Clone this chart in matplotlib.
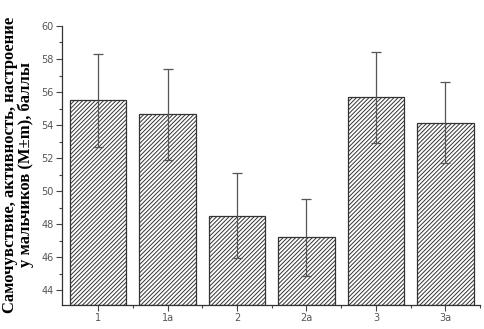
import matplotlib
matplotlib.use("Agg")
import matplotlib.pyplot as plt
from matplotlib.ticker import MultipleLocator

grupos = ["1", "1a", "2", "2a", "3", "3a"]
medias = [55.5, 54.65, 48.5, 47.2, 55.68, 54.15]
erros = [2.8, 2.75, 2.58, 2.35, 2.75, 2.45]

plt.rcParams["hatch.color"] = "#555555"
plt.rcParams["hatch.linewidth"] = 0.7

fig = plt.figure(figsize=(4.84, 3.29), dpi=100)
ax = fig.add_axes([0.128, 0.073, 0.864, 0.848])

pos = list(range(1, len(grupos) + 1))
ax.bar(pos, [m - 43.1 for m in medias], bottom=43.1, width=0.81,
       color="white", edgecolor="#333333", linewidth=0.9, hatch="////////",
       zorder=2)
ax.errorbar(pos, medias, yerr=erros, fmt="none", ecolor="#555555",
            elinewidth=0.9, capsize=3.8, capthick=0.9, zorder=3)

ax.set_ylim(43.1, 60)
ax.set_xlim(0.48, 6.5)
ax.yaxis.set_minor_locator(MultipleLocator(1))
ax.set_yticks(range(44, 61, 2))
ax.set_xticks(pos)
ax.set_xticklabels(grupos)
ax.set_xticks([p + 0.5 for p in pos], minor=True)

for s in ["top", "right"]:
    ax.spines[s].set_visible(False)
for s in ["left", "bottom"]:
    ax.spines[s].set_color("#333333")
    ax.spines[s].set_linewidth(0.9)

ax.tick_params(axis="both", which="major", direction="out", length=4,
               width=0.8, color="#444444", labelsize=7, labelcolor="#555555",
               pad=2)
ax.tick_params(axis="both", which="minor", direction="out", length=2,
               width=0.8, color="#444444")

fig.text(0.004, 0.5, "Самочувствие, активность, настроение\nу мальчиков (M±m), баллы",
         rotation=90, ha="left", va="center", fontsize=12, fontweight="bold",
         family="Liberation Serif", linespacing=0.95, multialignment="center")

fig.savefig("out.png", dpi=100)
